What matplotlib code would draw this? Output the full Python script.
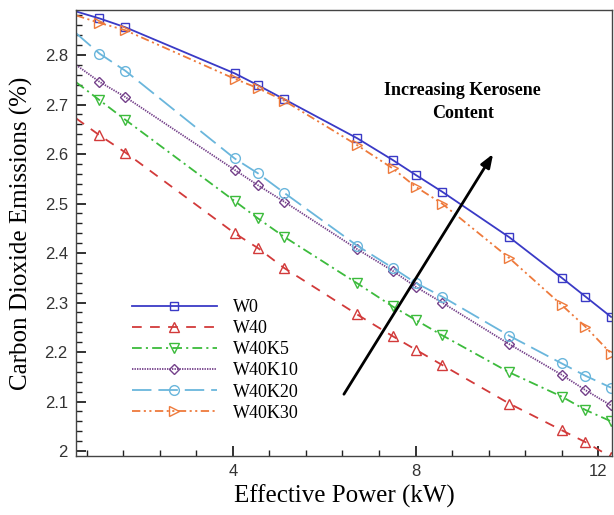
import matplotlib
matplotlib.use("Agg")
import matplotlib.pyplot as plt

# ---- data ----
power = [0.57, 1.08, 1.65, 4.04, 4.55, 5.12, 6.72, 7.50, 8.00, 8.58, 10.05, 11.20, 11.72, 12.28]
w0     = [2.888, 2.874, 2.856, 2.763, 2.739, 2.711, 2.632, 2.588, 2.558, 2.524, 2.432, 2.350, 2.312, 2.271]
w40    = [2.672, 2.638, 2.603, 2.440, 2.410, 2.370, 2.276, 2.232, 2.205, 2.174, 2.096, 2.042, 2.018, 1.988]
w40k5  = [2.745, 2.709, 2.669, 2.505, 2.470, 2.433, 2.339, 2.292, 2.265, 2.234, 2.159, 2.110, 2.083, 2.060]
w40k10 = [2.780, 2.746, 2.715, 2.568, 2.537, 2.504, 2.408, 2.364, 2.332, 2.300, 2.216, 2.154, 2.123, 2.092]
w40k20 = [2.844, 2.803, 2.768, 2.591, 2.561, 2.522, 2.415, 2.370, 2.340, 2.312, 2.233, 2.177, 2.152, 2.128]
w40k30 = [2.880, 2.865, 2.850, 2.752, 2.733, 2.708, 2.618, 2.571, 2.534, 2.500, 2.390, 2.295, 2.251, 2.197]

labels = ["W0", "W40", "W40K5", "W40K10", "W40K20", "W40K30"]
series = [w0, w40, w40k5, w40k10, w40k20, w40k30]
x_ticks = [4, 8, 12]
y_ticks = [2.0, 2.1, 2.2, 2.3, 2.4, 2.5, 2.6, 2.7, 2.8]
y_ticklabels = ["2", "2.1", "2.2", "2.3", "2.4", "2.5", "2.6", "2.7", "2.8"]

colors = ["#3a3ac6", "#d23a3a", "#3cbb3c", "#74408a", "#6ab6dc", "#ee7a3c"]
styles = ["-", (0, (7, 6)), (0, (7, 3, 1.5, 3)), (0, (1, 0.8)), (0, (14, 5)),
          (0, (6, 2.5, 1.5, 2.5, 1.5, 2.5))]
markers = ["s", "^", "v", "D", "o", ">"]
msizes = [6, 6.5, 6.5, 5.5, 7, 6.5]

plt.rcParams['lines.scale_dashes'] = False
serif = ["Liberation Serif", "DejaVu Serif"]
sans = ["Liberation Sans", "DejaVu Sans"]

fig = plt.figure(figsize=(6.14, 5.15), dpi=100)
ax = fig.add_axes([0.124, 0.1146, 0.8727, 0.866])

for y, lab, c, ls, m, ms in zip(series, labels, colors, styles, markers, msizes):
    ax.plot(power, y, color=c, linestyle=ls, lw=1.3, marker=m, markersize=ms,
            markerfacecolor="none", markeredgecolor=c, markeredgewidth=1.0,
            markevery=list(range(1, len(power))), label=lab)

ax.set_xlim(0.57, 12.3)
ax.set_ylim(1.99, 2.891)
ax.set_xticks(x_ticks)
ax.set_xticklabels([str(t) for t in x_ticks], family=sans, fontsize=12, color="#333333")
ax.set_yticks(y_ticks)
ax.set_yticklabels(y_ticklabels, family=sans, fontsize=12, color="#333333")
ax.set_xticks([0.8 * i for i in range(1, 16) if abs(0.8 * i / 4 - round(0.8 * i / 4)) > 1e-6], minor=True)
ax.set_yticks([2.0 + 0.02 * i for i in range(0, 45) if i % 5 != 0], minor=True)
ax.tick_params(which="major", direction="in", length=7, width=1.3, color="#222222",
               top=False, right=False, pad=6)
ax.tick_params(which="minor", direction="in", length=4, width=1.0, color="#222222",
               top=False, right=False)
for s in ax.spines.values():
    s.set_color("#444444")
    s.set_linewidth(1.0)

ax.set_xlabel("Effective Power (kW)", family=serif, fontsize=18, labelpad=4)
ax.set_ylabel("Carbon Dioxide Emissions (%)", family=serif, fontsize=18, labelpad=8)

ax.annotate("", xy=(9.73, 2.605), xytext=(6.40, 2.110),
            arrowprops=dict(arrowstyle="-|>,head_length=0.8,head_width=0.3",
                            color="black", lw=2))
ax.text(9.03, 2.705, "Increasing Kerosene\nContent", family=serif, fontsize=13,
        fontweight="bold", ha="center", va="center", linespacing=1.4)

leg = ax.legend(loc="upper left", bbox_to_anchor=(0.104, 0.352), frameon=False,
                prop=dict(family=serif, size=13), handlelength=4.7,
                handletextpad=0.9, labelspacing=0.23, borderpad=0,
                borderaxespad=0, numpoints=1)

fig.savefig("out.png", dpi=100)
